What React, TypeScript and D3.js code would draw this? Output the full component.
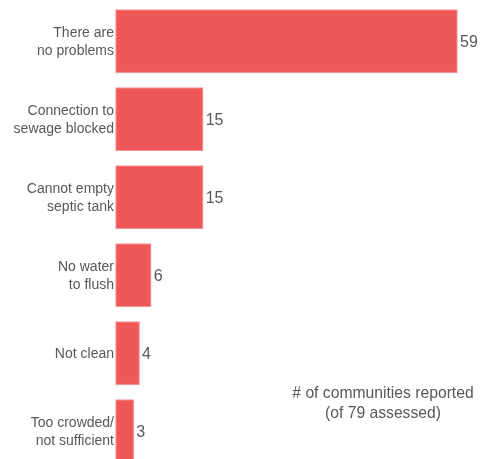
import React from "react";
import * as d3 from "d3";

const categories = [
  ["There are", "no problems"],
  ["Connection to", "sewage blocked"],
  ["Cannot empty", "septic tank"],
  ["No water", "to flush"],
  ["Not clean"],
  ["Too crowded/", "not sufficient"],
];
const values = [59, 15, 15, 6, 4, 3];
const annotation = ["# of communities reported", "(of 79 assessed)"];

const W = 481;
const H = 459;
const FONT = "'Liberation Sans', Arial, sans-serif";
const RED = "#EE5859";
const GREY = "#58585A";

export default function App() {
  const ids = categories.map((_, i) => String(i));
  const x = d3.scaleLinear().domain([0, 59]).range([116, 457]);
  const y = d3
    .scaleBand<string>()
    .domain(ids)
    .range([2.2, 470.2])
    .paddingInner(0.2)
    .paddingOuter(0.1);

  return (
    <div style={{ position: "fixed", left: 0, top: 0 }}>
      <svg width={W} height={H} style={{ display: "block" }} fontFamily={FONT}>
        {values.map((v, i) => {
          const y0 = y(ids[i])!;
          const bw = y.bandwidth();
          const cy = y0 + bw / 2;
          const lines = categories[i];
          const lh = 18;
          const startY = cy - ((lines.length - 1) * lh) / 2;
          return (
            <g key={i}>
              <rect
                x={x(0)}
                y={y0}
                width={x(v) - x(0)}
                height={bw}
                fill={RED}
                stroke="#F48A8B"
                strokeWidth={1}
              />
              <text
                x={x(v) + 3}
                y={cy}
                dy="0.35em"
                fontSize={16}
                fill={GREY}
              >
                {v}
              </text>
              {lines.map((l, j) => (
                <text
                  key={j}
                  x={114}
                  y={startY + j * lh}
                  dy="0.35em"
                  textAnchor="end"
                  fontSize={14}
                  fill={GREY}
                >
                  {l}
                </text>
              ))}
            </g>
          );
        })}
        {annotation.map((t, j) => (
          <text
            key={j}
            x={383}
            y={398 + j * 20}
            textAnchor="middle"
            fontSize={15.7}
            fill={GREY}
          >
            {t}
          </text>
        ))}
      </svg>
    </div>
  );
}
